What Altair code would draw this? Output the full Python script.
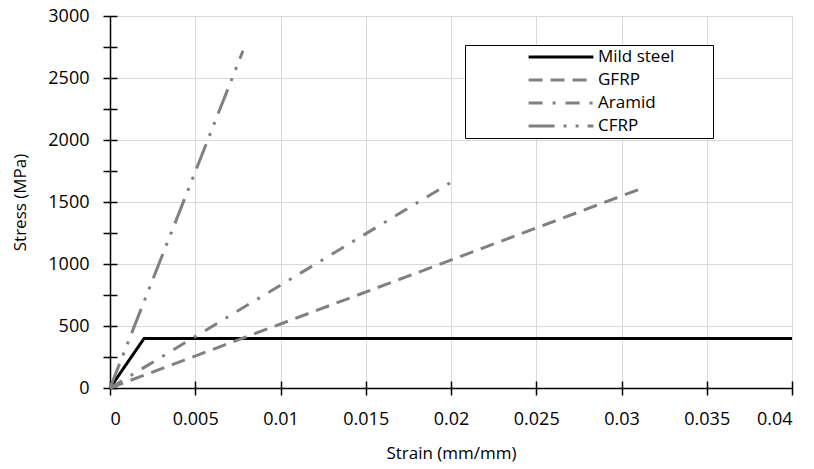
import altair as alt
import pandas as pd

series = ["Mild steel", "GFRP", "Aramid", "CFRP"]
steel_strain = [0.0, 0.002, 0.04]
steel_stress = [0, 400, 400]
gfrp_strain = [0.0, 0.031]
gfrp_stress = [0, 1600]
aramid_strain = [0.0, 0.0202]
aramid_stress = [0, 1675]
cfrp_strain = [0.0, 0.0078]
cfrp_stress = [0, 2720]
x_ticks = [0, 0.005, 0.01, 0.015, 0.02, 0.025, 0.03, 0.035, 0.04]
y_ticks = list(range(0, 3001, 250))

colors = ["#000000", "#808080", "#808080", "#808080"]
dashes = [[1, 0], [14, 8], [14, 10, 3, 10], [26, 9, 3, 9, 3, 9]]

rows = []
for name, xs, ys in [
    ("Mild steel", steel_strain, steel_stress),
    ("GFRP", gfrp_strain, gfrp_stress),
    ("Aramid", aramid_strain, aramid_stress),
    ("CFRP", cfrp_strain, cfrp_stress),
]:
    for i, (x, y) in enumerate(zip(xs, ys)):
        rows.append({"Material": name, "Strain": x, "Stress": y, "order": i})
df = pd.DataFrame(rows)

FONT = "Open Sans"
PAD = "datum.label + '\u2800\u2800\u2800'"

xscale = alt.Scale(domain=[0, 0.04], nice=False)
yscale = alt.Scale(domain=[0, 3000], nice=False)

lines = alt.Chart(df).mark_line(strokeWidth=3, strokeCap="butt").encode(
    x=alt.X("Strain:Q", title="Strain (mm/mm)", scale=xscale,
            axis=alt.Axis(values=x_ticks, format="~g", orient="bottom",
                          tickSize=7, labelPadding=15, titlePadding=17)),
    y=alt.Y("Stress:Q", title="Stress (MPa)", scale=yscale,
            axis=alt.Axis(values=y_ticks, format="d", orient="left",
                          labelExpr="datum.value % 500 == 0 ? datum.label : ''",
                          gridOpacity={"condition": {"test": "datum.value % 500 == 0", "value": 1}, "value": 0},
                          tickSize=7, labelPadding=14, titlePadding=18)),
    color=alt.Color("Material:N", scale=alt.Scale(domain=series, range=colors),
                    legend=alt.Legend(title=None, labelExpr=PAD)),
    strokeDash=alt.StrokeDash("Material:N", scale=alt.Scale(domain=series, range=dashes),
                              legend=alt.Legend(title=None, labelExpr=PAD)),
    order="order:Q",
    detail="Material:N",
)

# inner half of the crossing tick marks
inner_ticks = alt.Chart(df).mark_line(strokeOpacity=0).encode(
    x=alt.X("Strain:Q", title=None, scale=xscale,
            axis=alt.Axis(values=x_ticks, orient="bottom", offset=-7, tickSize=7,
                          labels=False, domain=False, grid=False)),
    y=alt.Y("Stress:Q", title=None, scale=yscale,
            axis=alt.Axis(values=y_ticks, orient="left", offset=-7, tickSize=7,
                          labels=False, domain=False, grid=False)),
    detail="Material:N",
)

chart = alt.layer(lines, inner_ticks).resolve_axis(x="independent", y="independent").properties(
    width=682, height=372,
    padding={"left": 102, "top": 8, "right": 14, "bottom": 80},
    autosize=alt.AutoSizeParams(type="none"),
).configure_view(stroke=None).configure_axis(
    labelFont=FONT, titleFont=FONT, labelFontSize=18, titleFontSize=17,
    titleFontWeight="normal", labelColor="#000", titleColor="#000",
    domainColor="#000", domainWidth=1.5, tickColor="#000", tickWidth=1.5,
    gridColor="#d9d9d9", gridWidth=1,
).configure_legend(
    orient="none", legendX=355, legendY=29,
    labelFont=FONT, labelFontSize=17, labelColor="#000",
    symbolType="stroke", symbolSize=4200, symbolStrokeWidth=3,
    symbolOffset=60, labelOffset=3, rowPadding=3, clipHeight=20,
    strokeColor="#000", fillColor="white", padding=2,
)

chart.save("out.html", embed_options={"renderer": "svg", "actions": False})
